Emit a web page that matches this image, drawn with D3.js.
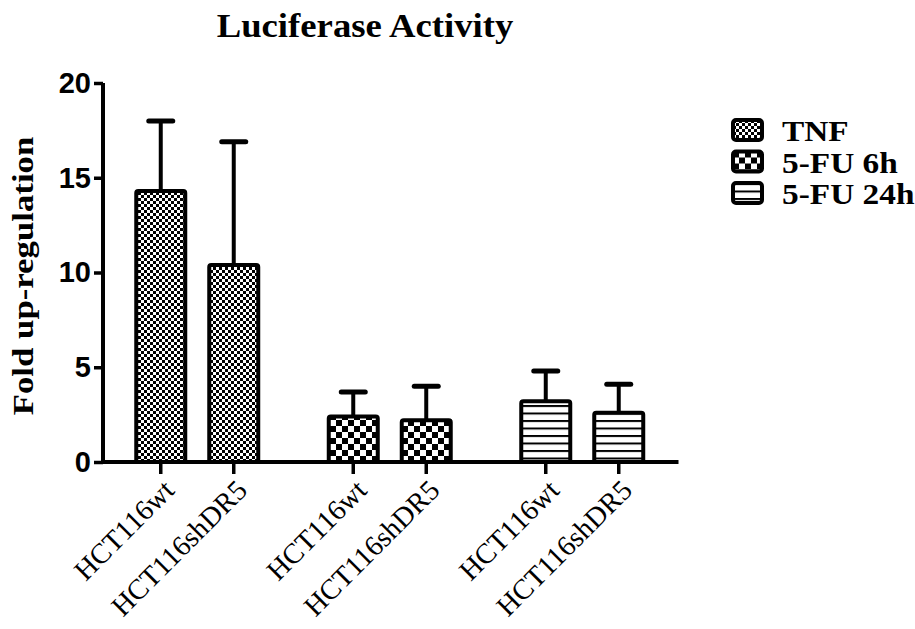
<!DOCTYPE html>
<html>
<head>
<meta charset="utf-8">
<script src="https://cdn.jsdelivr.net/npm/d3@7/dist/d3.min.js"></script>
<style>
  html, body { margin: 0; padding: 0; background: #fff; }
  svg { display: block; }
</style>
</head>
<body>
<svg id="chart" width="915" height="629"></svg>
<script>
// Treatments (groups along the x axis) and cell lines (bars within each group)
const treatments = ["TNF", "5-FU 6h", "5-FU 24h"];
const cellLines = ["HCT116wt", "HCT116shDR5"];

// Mean fold up-regulation per treatment, ordered as cellLines
const meanTNF = [14.3, 10.4];
const mean5FU6h = [2.4, 2.2];
const mean5FU24h = [3.2, 2.6];

// Upper end of the error bars (mean + SD)
const upperTNF = [18.0, 16.9];
const upper5FU6h = [3.7, 4.0];
const upper5FU24h = [4.8, 4.1];

const yTicks = [0, 5, 10, 15, 20];

const title = "Luciferase Activity";
const yLabel = "Fold up-regulation";

const rows = [
  { treatment: treatments[0], means: meanTNF, uppers: upperTNF, fill: "url(#pat-fine)" },
  { treatment: treatments[1], means: mean5FU6h, uppers: upper5FU6h, fill: "url(#pat-coarse)" },
  { treatment: treatments[2], means: mean5FU24h, uppers: upper5FU24h, fill: "url(#pat-lines)" }
];

const bars = rows.flatMap(r => cellLines.map((c, i) => ({
  treatment: r.treatment, cell: c, value: r.means[i], upper: r.uppers[i], fill: r.fill
})));

const serif = "'Liberation Serif', 'Times New Roman', serif";
const sans = "'Liberation Sans', Arial, sans-serif";

const svg = d3.select("#chart");
const defs = svg.append("defs");

// Fine checkerboard (TNF)
const pf = defs.append("pattern").attr("id", "pat-fine")
  .attr("patternUnits", "userSpaceOnUse").attr("width", 6).attr("height", 6);
pf.append("rect").attr("width", 6).attr("height", 6).attr("fill", "#fff");
pf.append("rect").attr("x", 0).attr("y", 0).attr("width", 3).attr("height", 3).attr("fill", "#000");
pf.append("rect").attr("x", 3).attr("y", 3).attr("width", 3).attr("height", 3).attr("fill", "#000");

// Coarse checkerboard (5-FU 6h)
const pc = defs.append("pattern").attr("id", "pat-coarse")
  .attr("patternUnits", "userSpaceOnUse").attr("width", 12).attr("height", 12);
pc.append("rect").attr("width", 12).attr("height", 12).attr("fill", "#fff");
pc.append("rect").attr("x", 0).attr("y", 0).attr("width", 6).attr("height", 6).attr("fill", "#000");
pc.append("rect").attr("x", 6).attr("y", 6).attr("width", 6).attr("height", 6).attr("fill", "#000");

// Horizontal stripes (5-FU 24h)
const pl = defs.append("pattern").attr("id", "pat-lines")
  .attr("patternUnits", "userSpaceOnUse").attr("width", 10).attr("height", 7.5);
pl.append("rect").attr("width", 10).attr("height", 7.5).attr("fill", "#fff");
pl.append("rect").attr("x", 0).attr("y", 0).attr("width", 10).attr("height", 2).attr("fill", "#000");

// Scales
const y = d3.scaleLinear().domain([0, 20]).range([462, 83]);
const xGroup = d3.scaleBand().domain(treatments).range([101, 678.5]);
const xInner = d3.scaleBand().domain(cellLines).range([0, xGroup.bandwidth()])
  .paddingInner(24 / 73).paddingOuter(0.483);
const barX = d => xGroup(d.treatment) + xInner(d.cell);
const barCx = d => barX(d) + xInner.bandwidth() / 2;

// Title (wide serif setting)
svg.append("text")
  .attr("transform", "translate(365,37) scale(1.08,1)")
  .attr("text-anchor", "middle")
  .attr("font-family", serif)
  .attr("font-weight", "bold")
  .attr("font-size", 34)
  .text(title);

// Y axis label
svg.append("text")
  .attr("transform", "translate(33,276) rotate(-90) scale(1.16,1)")
  .attr("text-anchor", "middle")
  .attr("font-family", serif)
  .attr("font-weight", "bold")
  .attr("font-size", 30)
  .text(yLabel);

// Bars
const g = svg.append("g");
g.selectAll("rect.bar").data(bars).join("rect")
  .attr("class", "bar")
  .attr("x", d => barX(d))
  .attr("y", d => y(d.value))
  .attr("width", xInner.bandwidth())
  .attr("height", d => y(0) - y(d.value))
  .attr("rx", 2)
  .attr("fill", d => d.fill)
  .attr("stroke", "#000")
  .attr("stroke-width", 4);

// Error bars (upper only)
g.selectAll("line.err").data(bars).join("line")
  .attr("class", "err")
  .attr("x1", barCx).attr("x2", barCx)
  .attr("y1", d => y(d.value)).attr("y2", d => y(d.upper))
  .attr("stroke", "#000").attr("stroke-width", 4);
g.selectAll("line.cap").data(bars).join("line")
  .attr("class", "cap")
  .attr("x1", d => barCx(d) - 12).attr("x2", d => barCx(d) + 12)
  .attr("y1", d => y(d.upper)).attr("y2", d => y(d.upper))
  .attr("stroke", "#000").attr("stroke-width", 5).attr("stroke-linecap", "round");

// Y axis
const yAxis = svg.append("g").attr("transform", "translate(103,0)")
  .call(d3.axisLeft(y).tickValues(yTicks).tickSize(9).tickPadding(3).tickFormat(d3.format("d")));
yAxis.select(".domain").attr("stroke", "#000").attr("stroke-width", 4)
  .attr("d", `M0,${y(20)}V${y(0)}`);
yAxis.selectAll(".tick line").attr("stroke", "#000").attr("stroke-width", 3.5);
yAxis.selectAll(".tick text")
  .attr("font-family", sans)
  .attr("font-weight", "bold")
  .attr("font-size", 29)
  .attr("fill", "#000");

// X axis baseline
svg.append("line")
  .attr("x1", 101).attr("x2", 678.5)
  .attr("y1", y(0)).attr("y2", y(0))
  .attr("stroke", "#000").attr("stroke-width", 4);

// X ticks and rotated labels
const xt = svg.append("g");
xt.selectAll("line").data(bars).join("line")
  .attr("x1", barCx).attr("x2", barCx)
  .attr("y1", y(0)).attr("y2", y(0) + 12)
  .attr("stroke", "#000").attr("stroke-width", 3.5);
xt.selectAll("text").data(bars).join("text")
  .attr("transform", d => `translate(${barCx(d) + 15},${y(0) + 30}) rotate(-45)`)
  .attr("text-anchor", "end")
  .attr("font-family", serif)
  .attr("font-size", 28.5)
  .text(d => d.cell);

// Legend
const legend = svg.append("g");
const lg = legend.selectAll("g").data(rows).join("g")
  .attr("transform", (d, i) => `translate(733,${120 + i * 31.5})`);
lg.append("rect")
  .attr("width", 29).attr("height", 20).attr("rx", 3)
  .attr("fill", d => d.fill)
  .attr("stroke", "#000").attr("stroke-width", 4);
lg.append("text")
  .attr("transform", "translate(49,21) scale(1.15,1)")
  .attr("font-family", serif)
  .attr("font-weight", "bold")
  .attr("font-size", 29)
  .text(d => d.treatment);
</script>
</body>
</html>
